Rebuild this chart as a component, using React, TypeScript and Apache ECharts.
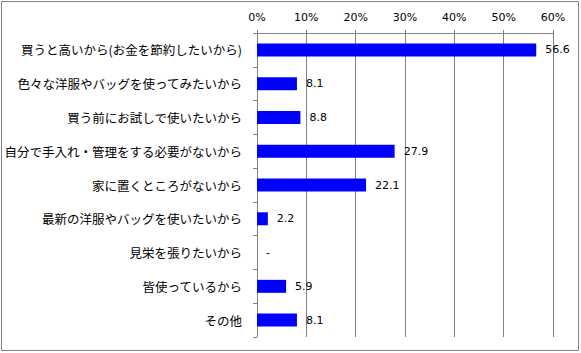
import React, { useEffect, useRef } from "react";
import * as echarts from "echarts";

const categories = [
  "買うと高いから(お金を節約したいから)",
  "色々な洋服やバッグを使ってみたいから",
  "買う前にお試しで使いたいから",
  "自分で手入れ・管理をする必要がないから",
  "家に置くところがないから",
  "最新の洋服やバッグを使いたいから",
  "見栄を張りたいから",
  "皆使っているから",
  "その他",
];
const values = [56.6, 8.1, 8.8, 27.9, 22.1, 2.2, 0, 5.9, 8.1];
const axisMin = 0;
const axisMax = 60;
const axisStep = 10;

export default function App() {
  const ref = useRef<HTMLDivElement>(null);
  useEffect(() => {
    if (!ref.current) return;
    const chart = echarts.init(ref.current, null, { renderer: "svg" });
    chart.setOption({
      animation: false,
      backgroundColor: "#ffffff",
      grid: {
        left: 257,
        right: 28,
        top: 33,
        bottom: 16,
        containLabel: false,
        outerBoundsMode: "none",
      },
      xAxis: {
        type: "value",
        position: "top",
        min: axisMin,
        max: axisMax,
        interval: axisStep,
        axisLine: { show: true, lineStyle: { color: "#808080", width: 1 } },
        axisTick: { show: true, length: 3, lineStyle: { color: "#808080" } },
        splitLine: { show: true, lineStyle: { color: "#808080", width: 1 } },
        axisLabel: {
          formatter: "{value}%",
          color: "#000",
          fontSize: 11,
          fontFamily: "DejaVu Sans",
          margin: 10,
        },
      },
      yAxis: {
        type: "category",
        data: categories,
        inverse: true,
        axisLine: { show: true, lineStyle: { color: "#808080", width: 1 } },
        axisTick: { show: true, length: 4, inside: false, lineStyle: { color: "#808080" } },
        axisLabel: {
          color: "#000",
          fontSize: 12.5,
          fontFamily: "Noto Sans CJK JP",
          margin: 15,
        },
      },
      series: [
        {
          type: "bar",
          data: values,
          barWidth: 13,
          itemStyle: { color: "#0000FF" },
          label: {
            show: true,
            position: "right",
            distance: 9,
            color: "#000",
            fontSize: 11,
            fontFamily: "DejaVu Sans",
            formatter: (p: any) => (p.value === 0 ? "-" : String(p.value)),
          },
        },
      ],
      graphic: [
        {
          type: "rect",
          shape: { x: 1.5, y: 1.5, width: 577, height: 349 },
          style: { fill: "none", stroke: "#808080", lineWidth: 1 },
          silent: true,
        },
      ],
    });
    return () => chart.dispose();
  }, []);
  return (
    <div
      ref={ref}
      style={{ position: "fixed", left: 0, top: 0, width: 581, height: 353 }}
    />
  );
}
